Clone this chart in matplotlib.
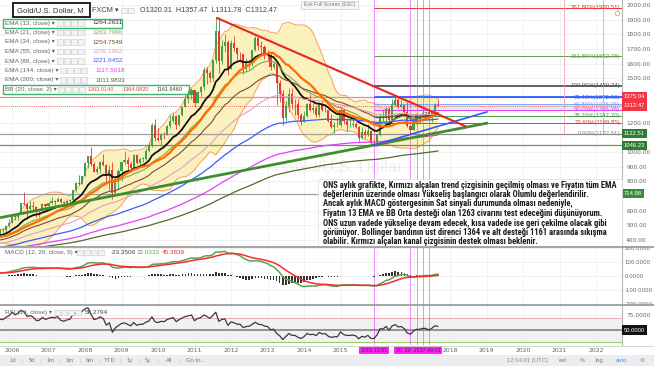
import numpy as np
import pandas as pd
import matplotlib
matplotlib.use("Agg")
import matplotlib.pyplot as plt
from matplotlib import font_manager, transforms
from matplotlib.patches import Rectangle

W, H, DPI = 654, 366, 100

_installed = {f.name for f in font_manager.fontManager.ttflist}


def pick(*names):
    for n in names:
        if n in _installed:
            return n
    return "DejaVu Sans"


UI_FONT = [pick("Liberation Sans", "Roboto", "DejaVu Sans"), "DejaVu Sans"]
NOTE_FONT = [pick("Liberation Sans Narrow", "Roboto Condensed", "Liberation Sans"), "DejaVu Sans"]

# ── data ─────────────────────────────────────────────────────────────────────
# monthly closes Jan 2002 .. Aug 2005 (indicator warm-up only, off-screen)
PRE_START = 2002.0
pre_closes = [282, 296, 302, 308, 326, 318, 304, 312, 324, 317, 319, 347,
              368, 347, 334, 336, 361, 346, 354, 375, 388, 384, 398, 416,
              399, 396, 426, 388, 393, 395, 391, 408, 415, 428, 453, 438,
              422, 434, 428, 435, 417, 437, 429, 433]

# visible monthly candles, Sep 2005 .. Sep 2017 (open = previous close)
closes = [473, 470, 495, 513,
          569, 556, 582, 654, 643, 614, 633, 623, 599, 604, 646, 632,
          650, 665, 662, 679, 656, 650, 665, 673, 743, 789, 783, 834,
          923, 972, 916, 864, 885, 930, 912, 833, 880, 718, 815, 869,
          928, 942, 917, 891, 979, 927, 954, 955, 1007, 1040, 1181, 1096,
          1081, 1118, 1113, 1179, 1213, 1244, 1181, 1248, 1307, 1357, 1385, 1421,
          1332, 1410, 1439, 1556, 1536, 1500, 1628, 1826, 1620, 1722, 1746, 1565,
          1738, 1710, 1668, 1664, 1561, 1604, 1614, 1692, 1773, 1719, 1712, 1675,
          1663, 1578, 1597, 1472, 1393, 1234, 1313, 1396, 1327, 1323, 1253, 1202,
          1244, 1326, 1284, 1296, 1250, 1327, 1282, 1287, 1208, 1171, 1183, 1184,
          1283, 1213, 1183, 1184, 1190, 1172, 1095, 1133, 1115, 1142, 1065, 1061,
          1118, 1238, 1233, 1291, 1215, 1322, 1351, 1308, 1316, 1273, 1173, 1146,
          1211, 1249, 1249, 1268, 1269, 1242, 1269, 1320.31, 1312.47]
highs = [477, 479, 497, 541,
         572, 574, 584, 654, 730, 652, 668, 665, 630, 608, 650, 646,
         653, 691, 673, 693, 688, 668, 682, 676, 744, 795, 845, 836,
         934, 975, 1033, 931, 903, 940, 988, 915, 912, 930, 825, 884,
         930, 1006, 962, 928, 983, 989, 960, 965, 1025, 1070, 1195, 1227,
         1162, 1126, 1138, 1184, 1249, 1265, 1244, 1250, 1308, 1388, 1424, 1432,
         1424, 1413, 1448, 1575, 1577, 1553, 1632, 1912, 1921, 1762, 1804, 1764,
         1763, 1792, 1715, 1679, 1666, 1640, 1630, 1694, 1788, 1796, 1755, 1726,
         1695, 1681, 1617, 1600, 1488, 1423, 1348, 1434, 1434, 1361, 1362, 1267,
         1280, 1332, 1392, 1331, 1315, 1332, 1345, 1322, 1287, 1255, 1205, 1239,
         1307, 1288, 1224, 1224, 1232, 1205, 1175, 1170, 1157, 1191, 1142, 1088,
         1123, 1263, 1283, 1304, 1303, 1362, 1375, 1367, 1352, 1318, 1337, 1181,
         1220, 1264, 1261, 1295, 1270, 1296, 1272, 1331, 1357.47]
lows = [433, 456, 456, 489,
        513, 538, 537, 582, 639, 543, 605, 607, 560, 560, 603, 606,
        603, 648, 636, 663, 650, 641, 643, 650, 672, 726, 774, 782,
        833, 888, 906, 862, 850, 859, 904, 786, 740, 681, 705, 747,
        801, 918, 865, 865, 884, 915, 905, 934, 947, 1000, 1035, 1075,
        1072, 1045, 1089, 1112, 1165, 1199, 1155, 1176, 1241, 1305, 1330, 1359,
        1309, 1330, 1382, 1420, 1462, 1478, 1480, 1602, 1535, 1600, 1682, 1523,
        1563, 1689, 1627, 1612, 1527, 1547, 1564, 1588, 1684, 1693, 1672, 1635,
        1626, 1555, 1563, 1321, 1339, 1180, 1207, 1271, 1292, 1251, 1221, 1182,
        1203, 1239, 1277, 1268, 1240, 1240, 1281, 1273, 1204, 1161, 1131, 1170,
        1167, 1191, 1142, 1172, 1170, 1162, 1077, 1085, 1098, 1106, 1052, 1046,
        1058, 1111, 1208, 1208, 1200, 1207, 1310, 1301, 1302, 1241, 1171, 1123,
        1146, 1180, 1195, 1241, 1214, 1236, 1205, 1267, 1311.78]

EMA_LENGTHS = [13, 21, 34, 55, 89, 144, 200]
EMA_COLORS = ["#111111", "#8DA34A", "#7B4B3A", "#DDA0C8", "#3D5AFE", "#E040FB", "#556B2F"]
EMA_WIDTHS = [1.3, 0.8, 0.8, 0.8, 0.9, 0.9, 0.9]
EMA_LEGEND_VALUES = ["1264.2631", "1263.7996", "1254.7549", "1259.1962",
                     "1221.6452", "1117.5018", "1011.9833"]
BB_LEGEND_VALUES = ["1263.0140", "1364.0820", "1161.9460"]

# fibonacci retracement drawn on the chart
FIB_LOW, FIB_HIGH = 1122.51, 1450.24
FIB_PCTS = [261.8, 161.8, 100.0, 76.4, 61.8, 50.0, 38.2, 23.6, 0.0]
FIB_COLORS = ["#E53935", "#5E9E4A", "#555555", "#2962FF", "#7FA7F5",
              "#E040FB", "#43A047", "#E53935", "#8A8A8A"]
FIB_START = 2015.917

# user drawn lines (time, price)
RED_TREND = ([2011.62, 2018.41], [1911, 1176])
GREEN_TREND = ([2005.67, 2019.04], [552, 1197])
BLUE_TREND = ([2015.917, 2019.01], [1046, 1272])
H_LEVELS = [1375.04, 1122.51, 1046.23, 714.98]
H_COLORS = ["#F08A80", "#9E9E9E", "#5E9E4A", "#9E9E9E"]
TAGS = [(1375.04, "1375.04", "#F23645"), (1312.47, "1312.47", "#F23645"),
        (1122.51, "1122.51", "#2E7D32"), (1046.23, "1046.23", "#2E7D32"),
        (714.98, "714.98", "#388E3C")]
PRICE_TICKS = [2000, 1900, 1800, 1700, 1600, 1500, 1200, 1000, 900, 800, 600, 500, 400]
VMARKS = [2015.917, 2016.917, 2017.083, 2017.25, 2017.417]
DATE_TAGS = [(2015.917, "2015-12-01", "center"), (2016.52, "20  20  2017-06-01", "left")]
TIME_LINES = [2021.12, 2022.19]

YEARS = list(range(2006, 2023))
HIDDEN_YEARS = [2016, 2017]

NOTE_LINES = [
    "ONS aylık grafikte, Kırmızı alçalan trend çizgisinin geçilmiş olması ve Fiyatın tüm EMA",
    "değerlerinin üzerinde olması Yükseliş başlangıcı olarak Olumlu değerlendirilir.",
    "Ancak aylık MACD göstergesinin Sat sinyali durumunda olması nedeniyle,",
    "Fiyatın 13 EMA ve BB Orta desteği olan 1263 civarını test edeceğini düşünüyorum.",
    "ONS uzun vadede yükselişe devam edecek, kısa vadede ise geri çekilme olacak gibi",
    "görünüyor. Bollinger bandının üst direnci 1364 ve alt desteği 1161 arasında sıkışma",
    "olabilir. Kırmızı alçalan kanal çizgisinin destek olması beklenir.",
]

# ── indicators ──────────────────────────────────────────────────────────────
all_close = pd.Series(pre_closes + closes, dtype=float)
t_all = PRE_START + np.arange(len(all_close)) / 12.0
n_pre = len(pre_closes)
t = t_all[n_pre:]
c = np.array(closes, float)
o = all_close.shift(1).to_numpy()[n_pre:]
hi = np.array(highs, float)
lo = np.array(lows, float)

emas = [all_close.ewm(span=n, adjust=False).mean().to_numpy() for n in EMA_LENGTHS]
bb_mid = all_close.rolling(20).mean()
bb_std = all_close.rolling(20).std(ddof=0)
bb_up = (bb_mid + 2 * bb_std).to_numpy()
bb_dn = (bb_mid - 2 * bb_std).to_numpy()
bb_mid = bb_mid.to_numpy()

macd_s = all_close.ewm(span=12, adjust=False).mean() - all_close.ewm(span=26, adjust=False).mean()
signal_s = macd_s.ewm(span=9, adjust=False).mean()
macd = macd_s.to_numpy()
signal = signal_s.to_numpy()
hist = macd - signal

delta = all_close.diff()
gain = delta.clip(lower=0).ewm(alpha=1 / 14, adjust=False).mean()
loss = (-delta.clip(upper=0)).ewm(alpha=1 / 14, adjust=False).mean()
rsi = (100 - 100 / (1 + gain / loss)).to_numpy()

# ── figure ──────────────────────────────────────────────────────────────────
fig = plt.figure(figsize=(W / DPI, H / DPI), dpi=DPI)
fig.patch.set_facecolor("white")


def px_axes(x0, y0, x1, y1):
    return fig.add_axes([x0 / W, 1 - y1 / H, (x1 - x0) / W, (y1 - y0) / H])


XLIM = (2005.671, 2005.671 + 622 / 36.5)
ax = px_axes(0, 0, 622, 247)
mx = px_axes(0, 247, 622, 305)
rx = px_axes(0, 305, 622, 345)

for a in (ax, mx, rx):
    a.set_xlim(*XLIM)
    a.set_facecolor("white")
    a.set_xticks(YEARS)
    a.grid(True, color="#EFEFEF", linewidth=0.6)
    a.set_axisbelow(True)
    a.yaxis.tick_right()
    a.tick_params(axis="both", length=0, labelsize=4.2, labelcolor="#666666", pad=3)
    a.tick_params(axis="x", labelbottom=False)
    for s in ("top", "left", "bottom"):
        a.spines[s].set_visible(False)
    a.spines["right"].set_color("#B5B5B5")
    a.spines["right"].set_linewidth(0.8)
    for d in VMARKS:
        a.axvline(d, color="#E040FB", linewidth=0.6, alpha=0.7, zorder=2)

# main price panel
ax.set_ylim(2000 - 242 / 0.1469, 2000 + 5 / 0.1469)
ax.set_yticks(PRICE_TICKS)
ax.set_yticklabels([f"{v:.2f}" for v in PRICE_TICKS])

ax.text(0.55, 0.32, "Gold/U.S. Dollar", transform=ax.transAxes, ha="center", va="center",
        fontsize=12, color="#000000", alpha=0.06, family=UI_FONT, zorder=0.6)

ax.fill_between(t_all, bb_dn, bb_up, color="#FBEFB2", alpha=0.85, linewidth=0, zorder=1)
ax.plot(t_all, bb_up, color="#F4A261", linewidth=0.7, zorder=1.5)
ax.plot(t_all, bb_dn, color="#F4A261", linewidth=0.7, zorder=1.5)

for lvl, col in zip(H_LEVELS, H_COLORS):
    ax.axhline(lvl, color=col, linewidth=0.9, zorder=1.6)
ax.axhline(closes[-1], color="#F23645", linewidth=0.6, linestyle=(0, (1, 1.5)), zorder=1.6)

fib_prices = [FIB_LOW + p / 100 * (FIB_HIGH - FIB_LOW) for p in FIB_PCTS]
ax.fill_between([FIB_START, XLIM[1]], fib_prices[5], fib_prices[4], color="#DADADA",
                alpha=0.55, linewidth=0, zorder=1.55)
for p, fp, col in zip(FIB_PCTS, fib_prices, FIB_COLORS):
    lw = 1.3 if p in (100.0, 76.4) else 0.7
    ax.hlines(fp, FIB_START, XLIM[1], color=col, linewidth=lw, zorder=1.7)
    ax.text(XLIM[1] - 0.05, fp, f"{p:.2f}%({fp:.2f})", color=col, fontsize=4.3,
            ha="right", va="center", family=UI_FONT, zorder=6)
for tl in TIME_LINES:
    ax.vlines(tl, FIB_LOW, 2040, color="#F4A0B0", linewidth=0.6, zorder=1.7)

for n, ema, col, lw in zip(EMA_LENGTHS, emas, EMA_COLORS, EMA_WIDTHS):
    ax.plot(t_all, ema, color=col, linewidth=lw, zorder=4)
ax.plot(t_all, bb_mid, color="#FF6D00", linewidth=1.6, zorder=4)

up = c >= o
colors = np.where(up, "#43A047", "#E53935")
ax.vlines(t, lo, hi, colors=colors, linewidth=0.6, zorder=3)
body_lo = np.minimum(o, c)
body_h = np.maximum(np.abs(c - o), 2.0)
ax.bar(t, body_h, bottom=body_lo, width=0.058, color=colors, linewidth=0, zorder=3.1)

ax.plot(*GREEN_TREND, color="#3E8E2E", linewidth=2.0, zorder=5, solid_capstyle="butt")
ax.plot(*BLUE_TREND, color="#3355FF", linewidth=1.2, zorder=5)
ax.plot(*RED_TREND, color="#E8261E", linewidth=1.5, zorder=5)

tag_tr = transforms.blended_transform_factory(ax.transAxes, ax.transData) + \
    transforms.ScaledTranslation(2 / DPI, 0, fig.dpi_scale_trans)
for y, s, fc in TAGS:
    ax.text(1.0, y, s, transform=tag_tr, fontsize=4.2, color="white", ha="left", va="center",
            family=UI_FONT, clip_on=False, zorder=10,
            bbox=dict(boxstyle="square,pad=0.35", fc=fc, ec="none"))

# MACD panel
mx.set_ylim(-207, 207)
mx.set_yticks([200, 100, 0, -100, -200])
mx.set_yticklabels([f"{v:.4f}" for v in [200, 100, 0, -100, -200]])
mx.tick_params(axis="y", labelsize=3.9, pad=2)
mx.bar(t_all, hist, width=0.045, color="#333333", linewidth=0, zorder=3)
mx.plot(t_all, macd, color="#5FA04E", linewidth=1.1, zorder=5)
mx.plot(t_all, signal, color="#F03030", linewidth=1.1, zorder=5)

# RSI panel
rx.set_ylim(25, 50 + 25 / 0.6)
rx.set_yticks([75, 50])
rx.set_yticklabels(["75.0000", ""])
rx.axhspan(30, 70, color="#F1F1F3", zorder=0.4)
rx.axhline(70, color="#E9A3A3", linewidth=0.6, zorder=1)
rx.axhline(50, color="#8C8C8C", linewidth=1.3, zorder=1)
rx.axhline(30, color="#8BC34A", linewidth=0.6, zorder=1)
rx.plot(t_all, rsi, color="#3A3A3A", linewidth=0.9, zorder=5)
rtag_tr = transforms.blended_transform_factory(rx.transAxes, rx.transData) + \
    transforms.ScaledTranslation(2 / DPI, 0, fig.dpi_scale_trans)
rx.text(1.0, 50, "50.0000", transform=rtag_tr, fontsize=4.2, color="white", ha="left",
        va="center", family=UI_FONT, clip_on=False, zorder=10,
        bbox=dict(boxstyle="square,pad=0.35", fc="#111111", ec="none"))

rx.tick_params(axis="x", labelbottom=True, labelsize=4.4, pad=2.5)
rx.set_xticklabels(["" if y in HIDDEN_YEARS else str(y) for y in YEARS])
lab_tr = transforms.blended_transform_factory(rx.transData, rx.transAxes) + \
    transforms.ScaledTranslation(0, -5 / DPI, fig.dpi_scale_trans)
for d, s, ha in DATE_TAGS:
    rx.text(d, 0, s, transform=lab_tr, fontsize=3.8, color="#333333", ha=ha, va="center",
            family=UI_FONT, clip_on=False, zorder=10,
            bbox=dict(boxstyle="square,pad=0.3", fc="#FF1FFF", ec="none"))

# ── overlay: TradingView chrome (pixel coordinates) ─────────────────────────
ov = fig.add_axes([0, 0, 1, 1], zorder=20)
ov.set_xlim(0, W)
ov.set_ylim(H, 0)
ov.axis("off")

for y in (247, 305):
    ov.plot([0, W], [y, y], color="#9E9E9E", linewidth=1.3)
ov.plot([0, W], [345.5, 345.5], color="#D0D0D0", linewidth=0.6)
ov.add_patch(Rectangle((0, 355), W, 11, fc="#ECEDF0", ec="none"))
for x, s in zip([13, 32, 51, 70, 90, 110, 130, 148, 169, 196],
                ["1d", "5d", "1m", "3m", "6m", "YTD", "1y", "5y", "All", "Go to..."]):
    ov.text(x, 360.5, s, fontsize=4.2, color="#7A7A7A", ha="center", va="center", family=UI_FONT)
for x in [22, 41, 60, 80, 100, 120, 139, 158, 180]:
    ov.plot([x, x], [358, 363], color="#CFCFCF", linewidth=0.5)
for x, s, col in [(527, "12:14:01 (UTC)", "#8A8A8A"), (563, "ext", "#7A7A7A"),
                  (582, "%", "#7A7A7A"), (600, "log", "#7A7A7A"), (621, "auto", "#4A90E2"),
                  (642, "⚙", "#8A8A8A")]:
    ov.text(x, 360.5, s, fontsize=4.2, color=col, ha="center", va="center", family=UI_FONT)

# header
ov.add_patch(Rectangle((13, 3), 77, 14, fc="white", ec="#111111", linewidth=1.3))
ov.text(17, 10.5, "Gold/U.S. Dollar, M", fontsize=5.6, color="#333333", va="center",
        family=UI_FONT)
ov.text(92, 10.5, "FXCM ▾", fontsize=5.3, color="#444444", va="center", family=UI_FONT)


def icons(x0, y, n):
    for i in range(n):
        ov.add_patch(Rectangle((x0 + i * 7, y - 3), 5.5, 5.5, fc="#F3F3F3", ec="#C8C8C8",
                               linewidth=0.4))


icons(121, 10.5, 2)
ov.text(140, 10.5, "O1320.31  H1357.47  L1311.78  C1312.47", fontsize=5.2, color="#444444",
        va="center", family=UI_FONT)
ov.add_patch(Rectangle((301, 0.5), 57, 8, fc="#F7F7F7", ec="#CCCCCC", linewidth=0.5))
ov.text(329.5, 4.5, "Exit Full Screen (ESC)", fontsize=3.7, color="#777777", ha="center",
        va="center", family=UI_FONT)
ov.plot([617], [13], marker="o", markersize=3.2, mfc="none", mec="#F5A623", mew=0.6)

# indicator legend
for i, (n, val, col) in enumerate(zip(EMA_LENGTHS, EMA_LEGEND_VALUES, EMA_COLORS)):
    y = 23 + 9.5 * i
    shift = 3 if n >= 100 else 0
    ov.text(5, y, f"EMA ({n}, close) ▾", fontsize=4.6, color="#666666", va="center",
            family=UI_FONT)
    icons(57 + shift, y, 4)
    ov.text(92 + shift, y, val, fontsize=4.6, color=col if i else "#333333", va="center",
            family=UI_FONT)
ybb = 23 + 9.5 * 7
ov.text(5, ybb, "BB (20, close, 2) ▾", fontsize=4.6, color="#666666", va="center",
        family=UI_FONT)
icons(58, ybb, 4)
for x, val, col in zip([88, 123, 157], BB_LEGEND_VALUES, ["#F0502A", "#E53935", "#444444"]):
    ov.text(x, ybb, val, fontsize=4.0, color=col, va="center", family=UI_FONT)
ov.add_patch(Rectangle((3, 18.5), 119, 9, fc="none", ec="#3CB371", linewidth=1.0))
ov.add_patch(Rectangle((3, ybb - 4.5), 186, 9, fc="none", ec="#3CB371", linewidth=1.0))

# panel legends
ov.text(5, 252.5, "MACD (12, 26, close, 9) ▾", fontsize=4.6, color="#666666", va="center",
        family=UI_FONT)
icons(77, 252.5, 4)
for x, val, col in zip([111, 137, 162], ["-23.3506", "22.0333", "45.3839"],
                       ["#444444", "#5FA04E", "#F03030"]):
    ov.text(x, 252.5, val, fontsize=4.6, color=col, va="center", family=UI_FONT)
ov.text(5, 312.5, "RSI (14, close) ▾", fontsize=4.6, color="#666666", va="center",
        family=UI_FONT)
icons(54, 312.5, 4)
ov.text(85, 312.5, "56.2794", fontsize=4.6, color="#444444", va="center", family=UI_FONT)

# comment box
ov.add_patch(Rectangle((318, 179), 304, 68, fc="white", ec="#DDDDDD", linewidth=0.5))
probe = ov.text(323, 185, NOTE_LINES[0], fontsize=6.0, family=NOTE_FONT, weight="bold")
wpx = probe.get_window_extent(fig.canvas.get_renderer()).width
probe.remove()
note_size = 6.0 * 295 / wpx
for i, line in enumerate(NOTE_LINES):
    ov.text(323, 185 + 9.5 * i, line, fontsize=note_size, family=NOTE_FONT, weight="bold",
            color="#1A1A1A", va="center")

fig.savefig("out.png", dpi=DPI, facecolor="white")
